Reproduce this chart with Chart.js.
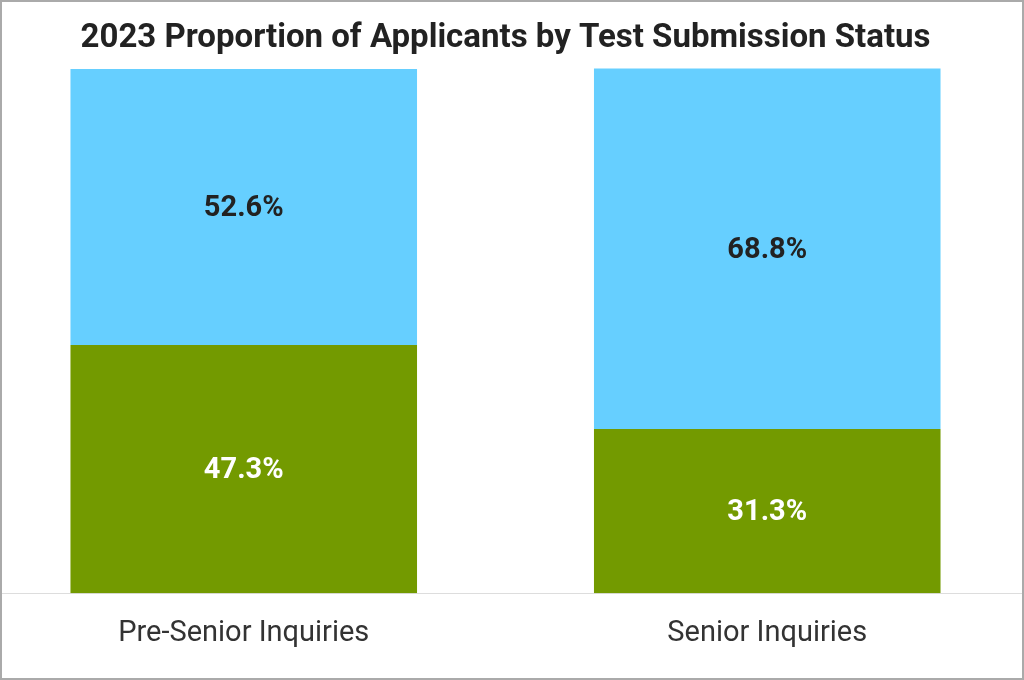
<!DOCTYPE html>
<html>
<head>
<meta charset="utf-8">
<script src="https://cdn.jsdelivr.net/npm/chart.js@4.4.1/dist/chart.umd.min.js"></script>
<style>
  body { margin: 0; background: #fff; }
  #frame { position: relative; width: 1024px; height: 680px; overflow: hidden; background: #fff; }
  #wrap { position: absolute; left: -18px; top: 0; width: 1047px; height: 680px; }
  #edge { position: absolute; inset: 0; border: 2px solid #aaaaaa; pointer-events: none; }
</style>
</head>
<body>
<div id="frame">
  <div id="wrap"><canvas id="testChart"></canvas></div>
  <div id="edge"></div>
</div>
<script>
const categories = ['Pre-Senior Inquiries', 'Senior Inquiries'];
const submittedValues = [47.3, 31.3];
const optionalValues = [52.6, 68.8];

const FONT = 'Roboto, "Noto Sans", sans-serif';

// draws the percentage inside each bar segment
const segmentLabels = {
  id: 'segmentLabels',
  afterDatasetsDraw(chart) {
    const ctx = chart.ctx;
    ctx.save();
    ctx.font = 'bold 29px ' + FONT;
    ctx.textAlign = 'center';
    ctx.textBaseline = 'middle';
    chart.data.datasets.forEach((ds, i) => {
      chart.getDatasetMeta(i).data.forEach((bar, j) => {
        const mid = (bar.y + bar.base) / 2;
        ctx.fillStyle = ds.labelColor;
        ctx.fillText(ds.data[j].toFixed(1) + '%', bar.x, mid + 2);
      });
    });
    ctx.restore();
  }
};

const ctx = document.getElementById('testChart').getContext('2d');
new Chart(ctx, {
  type: 'bar',
  data: {
    labels: categories,
    datasets: [{
      label: 'Submitted Test Scores',
      data: submittedValues,
      backgroundColor: '#739a00',
      labelColor: '#ffffff',
      barPercentage: 0.662,
      categoryPercentage: 1
    }, {
      label: 'Test Optional',
      data: optionalValues,
      backgroundColor: '#66cfff',
      labelColor: '#222222',
      barPercentage: 0.662,
      categoryPercentage: 1
    }]
  },
  options: {
    responsive: true,
    maintainAspectRatio: false,
    animation: false,
    layout: { padding: { top: 0, bottom: 6, left: 0, right: 0 } },
    scales: {
      x: {
        stacked: true,
        grid: { display: false, drawTicks: false },
        border: { display: true, color: '#dddddd', width: 1 },
        ticks: {
          color: '#333333',
          padding: 23,
          font: { family: FONT, size: 29 }
        }
      },
      y: {
        stacked: true,
        display: false,
        min: 0,
        max: 100
      }
    },
    plugins: {
      legend: { display: false },
      tooltip: { enabled: false },
      title: {
        display: true,
        text: '2023 Proportion of Applicants by Test Submission Status',
        color: '#222222',
        padding: { top: 19, bottom: 10 },
        font: { family: FONT, size: 33, weight: 'bold' }
      }
    }
  },
  plugins: [segmentLabels]
});
</script>
</body>
</html>
